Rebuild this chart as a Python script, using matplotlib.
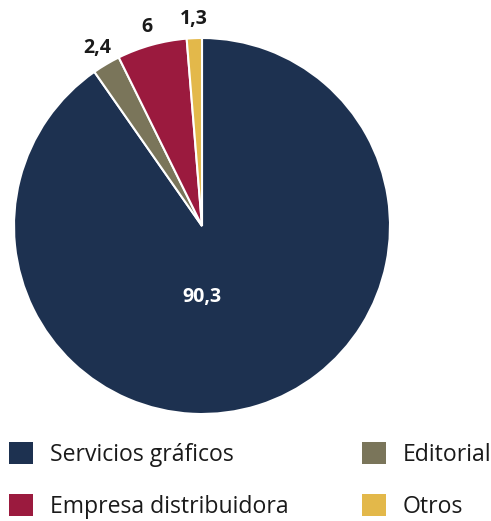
import numpy as np
import matplotlib.pyplot as plt
from matplotlib.patches import Patch

plt.rcParams["font.family"] = ["Open Sans", "DejaVu Sans"]

categories = ["Servicios gráficos", "Editorial", "Empresa distribuidora", "Otros"]
values = [90.3, 2.4, 6, 1.3]
value_labels = ["90,3", "2,4", "6", "1,3"]
colors = ["#1d3150", "#7a755a", "#9b1a3e", "#e3b84a"]

W, H = 491, 521
fig = plt.figure(figsize=(W / 100, H / 100), dpi=100)

# pie spans roughly x 14..390, y 38..414 in pixels
cx, cy, r = 202, 226, 188
ax = fig.add_axes([(cx - r) / W, (H - cy - r) / H, 2 * r / W, 2 * r / H])
wedges, _ = ax.pie(values, colors=colors, startangle=90, counterclock=False,
                   radius=1, wedgeprops=dict(edgecolor="white", linewidth=1.5))
ax.set_xlim(-1, 1)
ax.set_ylim(-1, 1)
ax.set_aspect("equal")
ax.axis("off")

for i, w in enumerate(wedges):
    if i == 0:
        ax.text(0, -0.38, value_labels[i], ha="center", va="center",
                color="white", fontsize=14, fontweight="bold")
        continue
    ang = np.deg2rad((w.theta1 + w.theta2) / 2)
    d = 1.1
    ax.text(d * np.cos(ang), d * np.sin(ang), value_labels[i], ha="center",
            va="center", color="#1a1a1a", fontsize=14, fontweight="bold",
            clip_on=False)

# legend: column-major fill -> Servicios, Empresa | Editorial, Otros
order = [0, 2, 1, 3]
handles = [Patch(facecolor=colors[i], edgecolor="none") for i in order]
labels = [categories[i] for i in order]
fig.legend(handles, labels, ncol=2, loc="upper left",
           bbox_to_anchor=(0.0, (H - 433) / H), frameon=False,
           fontsize=16.6, handlelength=1.05, handleheight=1.05,
           handletextpad=0.7, columnspacing=3.2, labelspacing=1.2,
           borderaxespad=0.1, borderpad=0.3, labelcolor="#1a1a1a")

fig.savefig("out.png", dpi=100)
